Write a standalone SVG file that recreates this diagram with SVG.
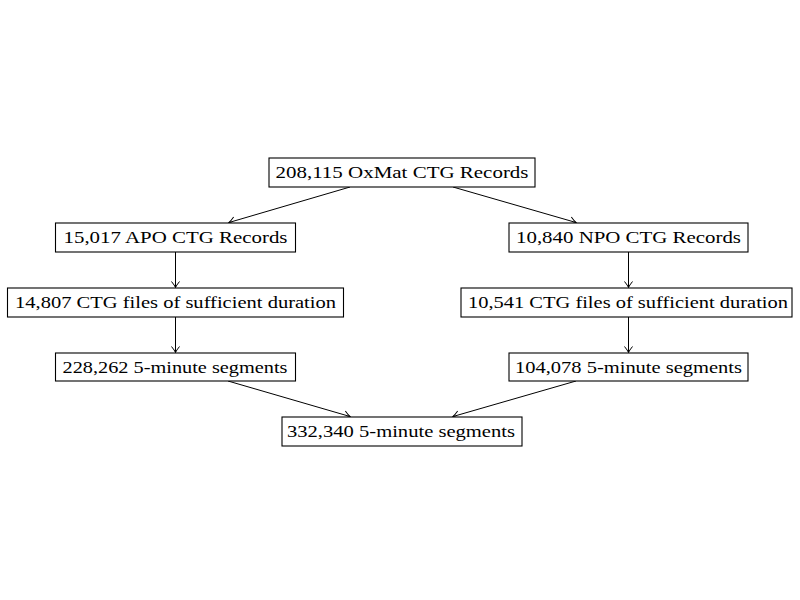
<svg xmlns="http://www.w3.org/2000/svg" width="800" height="600" viewBox="0 0 800 600">
<defs>
<style>
.box{fill:#fff;stroke:#000;stroke-width:1.1}
.t{font-family:"Liberation Serif","Times New Roman",serif;font-size:17.5px;fill:#000;text-anchor:middle}
.c{stroke:#000;stroke-width:1;fill:none;marker-end:url(#arr)}
</style>
<marker id="arr" viewBox="-7 -5 8 10" refX="0" refY="0" markerWidth="8" markerHeight="10" markerUnits="userSpaceOnUse" orient="auto">
<path d="M-6,-4 Q-2,-0.8 0,0 Q-2,0.8 -6,4" fill="none" stroke="#000" stroke-width="1"/>
</marker>
</defs>
<rect width="800" height="600" fill="#fff"/>
<g id="connectors">
<line class="c" x1="350" y1="187" x2="229" y2="222.5"/>
<line class="c" x1="453" y1="187" x2="576" y2="222.5"/>
<line class="c" x1="175.5" y1="252" x2="175.5" y2="287.5"/>
<line class="c" x1="628.5" y1="252" x2="628.5" y2="287.5"/>
<line class="c" x1="175.5" y1="317" x2="175.5" y2="352.5"/>
<line class="c" x1="628.5" y1="317" x2="628.5" y2="352.5"/>
<line class="c" x1="228" y1="381" x2="350" y2="416.5"/>
<line class="c" x1="576" y1="381" x2="453" y2="416.5"/>
</g>
<g id="n0"><rect class="box" x="269" y="158" width="266" height="29"/><text class="t" x="402" y="177.5" textLength="253" lengthAdjust="spacingAndGlyphs">208,115 OxMat CTG Records</text></g>
<g id="n1"><rect class="box" x="55.5" y="223" width="240" height="29"/><text class="t" x="175.5" y="242.5" textLength="224" lengthAdjust="spacingAndGlyphs">15,017 APO CTG Records</text></g>
<g id="n2"><rect class="box" x="509" y="223" width="239" height="29"/><text class="t" x="628.5" y="242.5" textLength="225" lengthAdjust="spacingAndGlyphs">10,840 NPO CTG Records</text></g>
<g id="n3"><rect class="box" x="7.5" y="288" width="336" height="29"/><text class="t" x="175.5" y="307.5" textLength="321" lengthAdjust="spacingAndGlyphs">14,807 CTG files of sufficient duration</text></g>
<g id="n4"><rect class="box" x="461" y="288" width="331" height="29"/><text class="t" x="628" y="307.5" textLength="320" lengthAdjust="spacingAndGlyphs">10,541 CTG files of sufficient duration</text></g>
<g id="n5"><rect class="box" x="55.5" y="353" width="240" height="28"/><text class="t" x="175" y="372.5" textLength="225" lengthAdjust="spacingAndGlyphs">228,262 5-minute segments</text></g>
<g id="n6"><rect class="box" x="509" y="353" width="239" height="28"/><text class="t" x="628.5" y="372.5" textLength="227" lengthAdjust="spacingAndGlyphs">104,078 5-minute segments</text></g>
<g id="n7"><rect class="box" x="282" y="417" width="240" height="29"/><text class="t" x="401" y="436.5" textLength="228" lengthAdjust="spacingAndGlyphs">332,340 5-minute segments</text></g>
</svg>
